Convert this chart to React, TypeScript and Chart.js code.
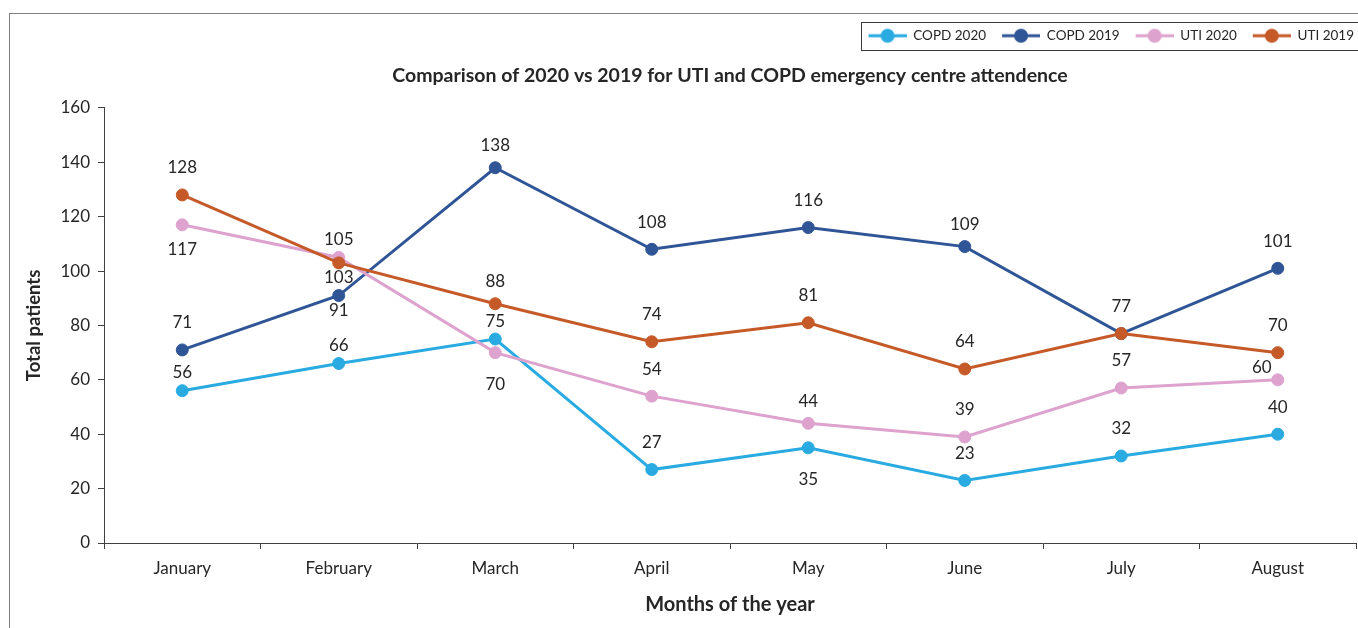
import React, { useEffect, useRef } from 'react';
import { Chart, registerables } from 'chart.js';

Chart.register(...registerables);

const months = ['January', 'February', 'March', 'April', 'May', 'June', 'July', 'August'];
const copd2020 = [56, 66, 75, 27, 35, 23, 32, 40];
const copd2019 = [71, 91, 138, 108, 116, 109, 77, 101];
const uti2020 = [117, 105, 70, 54, 44, 39, 57, 60];
const uti2019 = [128, 103, 88, 74, 81, 64, 77, 70];

const yMin = 0;
const yMax = 160;
const yStep = 20;

// data-label placement codes per point ('' = no label)
const copd2020Place = ['n', 'n', 'n', 'a', 'b', 'a', 'a', 'a'];
const copd2019Place = ['a', 'm', 'h', 'a', 'a', 'h', '', 'a'];
const uti2020Place = ['c', 'n', 'b', 'a', 'h', 'a', 'a', 'l'];
const uti2019Place = ['a', 'm', 'h', 'a', 'a', 'a', 'a', 'a'];

const placeOffsets: Record<string, [number, number]> = {
  a: [0, -27],
  h: [0, -22],
  n: [0, -18],
  b: [0, 32],
  c: [0, 25],
  m: [0, 15],
  l: [-16, -12],
};

const COLORS = {
  copd2020: '#29ABE2',
  copd2019: '#2F5597',
  uti2020: '#DDA2CD',
  uti2019: '#C55A28',
};

const FONT = "Lato, 'Open Sans', sans-serif";
const TEXT = '#262626';

function makeMarker(color: string): HTMLCanvasElement {
  const c = document.createElement('canvas');
  c.width = 52;
  c.height = 16;
  const g = c.getContext('2d')!;
  g.strokeStyle = color;
  g.lineWidth = 3;
  g.beginPath();
  g.moveTo(14, 8);
  g.lineTo(52, 8);
  g.stroke();
  g.fillStyle = color;
  g.beginPath();
  g.arc(33, 8, 7, 0, Math.PI * 2);
  g.fill();
  return c;
}

const dataLabelPlugin = {
  id: 'dataLabels',
  afterDatasetsDraw(chart: any) {
    const ctx = chart.ctx;
    ctx.save();
    ctx.font = `17px ${FONT}`;
    ctx.fillStyle = TEXT;
    ctx.textAlign = 'center';
    ctx.textBaseline = 'middle';
    chart.data.datasets.forEach((ds: any, i: number) => {
      const meta = chart.getDatasetMeta(i);
      const places: string[] = ds.labelPlaces || [];
      meta.data.forEach((pt: any, j: number) => {
        const code = places[j];
        if (!code) return;
        const [dx, dy] = placeOffsets[code];
        ctx.fillText(String(ds.data[j]), pt.x + dx, pt.y + dy);
      });
    });
    ctx.restore();
  },
};

const legendBoxPlugin = {
  id: 'legendBox',
  afterDraw(chart: any) {
    const lg = chart.legend;
    const hb = lg && lg.legendHitBoxes;
    if (!hb || !hb.length) return;
    const first = hb[0];
    const ctx = chart.ctx;
    const x0 = Math.round(first.left + 6) + 0.5;
    const cy = first.top + first.height / 2;
    const y0 = Math.round(cy - 14) + 0.5;
    ctx.save();
    ctx.strokeStyle = '#3a3a3a';
    ctx.lineWidth = 1;
    ctx.strokeRect(x0, y0, chart.width + 10, 28);
    ctx.restore();
  },
};

export default function App() {
  const ref = useRef<HTMLCanvasElement>(null);

  useEffect(() => {
    if (!ref.current) return;
    const markers = [
      makeMarker(COLORS.copd2020),
      makeMarker(COLORS.copd2019),
      makeMarker(COLORS.uti2020),
      makeMarker(COLORS.uti2019),
    ];
    const mk = (label: string, data: number[], color: string, places: string[], order: number) => ({
      label,
      data,
      borderColor: color,
      backgroundColor: color,
      borderWidth: 3,
      pointRadius: 6,
      pointBorderWidth: 1,
      pointBorderColor: color,
      pointBackgroundColor: color,
      tension: 0,
      order,
      labelPlaces: places,
    });

    const chart = new Chart(ref.current, {
      type: 'line',
      data: {
        labels: months,
        datasets: [
          mk('COPD 2020', copd2020, COLORS.copd2020, copd2020Place, 4),
          mk('COPD 2019', copd2019, COLORS.copd2019, copd2019Place, 3),
          mk('UTI 2020', uti2020, COLORS.uti2020, uti2020Place, 2),
          mk('UTI 2019', uti2019, COLORS.uti2019, uti2019Place, 1),
        ] as any,
      },
      options: {
        animation: false,
        responsive: true,
        maintainAspectRatio: false,
        layout: { autoPadding: false, padding: { top: 27, left: 0, right: 2, bottom: 0 } },
        font: { family: FONT },
        plugins: {
          tooltip: { enabled: false },
          legend: {
            position: 'top',
            align: 'end',
            weight: 3000,
            labels: {
              usePointStyle: true,
              pointStyleWidth: 52,
              boxHeight: 15,
              padding: 2,
              color: TEXT,
              font: { family: FONT, size: 13.5 },
              generateLabels: (c: any) => {
                const items = (Chart.defaults.plugins.legend.labels as any).generateLabels(c);
                return items.map((it: any) => ({ ...it, pointStyle: markers[it.datasetIndex] }));
              },
              sort: (a: any, b: any) => a.datasetIndex - b.datasetIndex,
            },
          } as any,
          title: {
            display: true,
            fullSize: false,
            text: 'Comparison of 2020 vs 2019 for UTI and COPD emergency centre attendence',
            color: TEXT,
            font: { family: FONT, size: 19.5, weight: 'bold' },
            padding: { top: 11.5, bottom: 20.5 },
          },
        },
        scales: {
          x: {
            type: 'category',
            offset: true,
            grid: {
              display: true,
              drawOnChartArea: false,
              drawTicks: true,
              tickLength: 6,
              color: '#404040',
              offset: true,
            },
            border: { display: true, color: '#404040', width: 1 },
            ticks: { color: TEXT, font: { family: FONT, size: 17 }, padding: 9, maxRotation: 0 },
            title: {
              display: true,
              text: 'Months of the year',
              color: TEXT,
              font: { family: FONT, size: 20, weight: 'bold' },
              padding: { top: 0, bottom: 11 },
            },
            afterFit: (s: any) => {
              s.height = 85;
            },
          },
          y: {
            min: yMin,
            max: yMax,
            ticks: { stepSize: yStep, color: TEXT, font: { family: FONT, size: 17 }, padding: 8 },
            grid: {
              display: true,
              drawOnChartArea: false,
              drawTicks: true,
              tickLength: 6,
              color: '#404040',
            },
            border: { display: true, color: '#404040', width: 1 },
            title: {
              display: true,
              text: 'Total patients',
              color: TEXT,
              font: { family: FONT, size: 18.5, weight: 'bold' },
              padding: { top: 23, bottom: 0 },
            },
            afterFit: (s: any) => {
              s.width = 104;
            },
          },
        },
      },
      plugins: [dataLabelPlugin, legendBoxPlugin],
    } as any);

    return () => chart.destroy();
  }, []);

  return (
    <div style={{ position: 'absolute', left: 0, top: 0, width: 1358, height: 628, background: '#fff' }}>
      <div
        style={{
          position: 'absolute',
          left: 9,
          top: 13,
          right: 0,
          bottom: 0,
          borderTop: '1px solid #7f7f7f',
          borderLeft: '1px solid #7f7f7f',
        }}
      />
      <canvas ref={ref} style={{ position: 'absolute', left: 0, top: 0 }} />
    </div>
  );
}
